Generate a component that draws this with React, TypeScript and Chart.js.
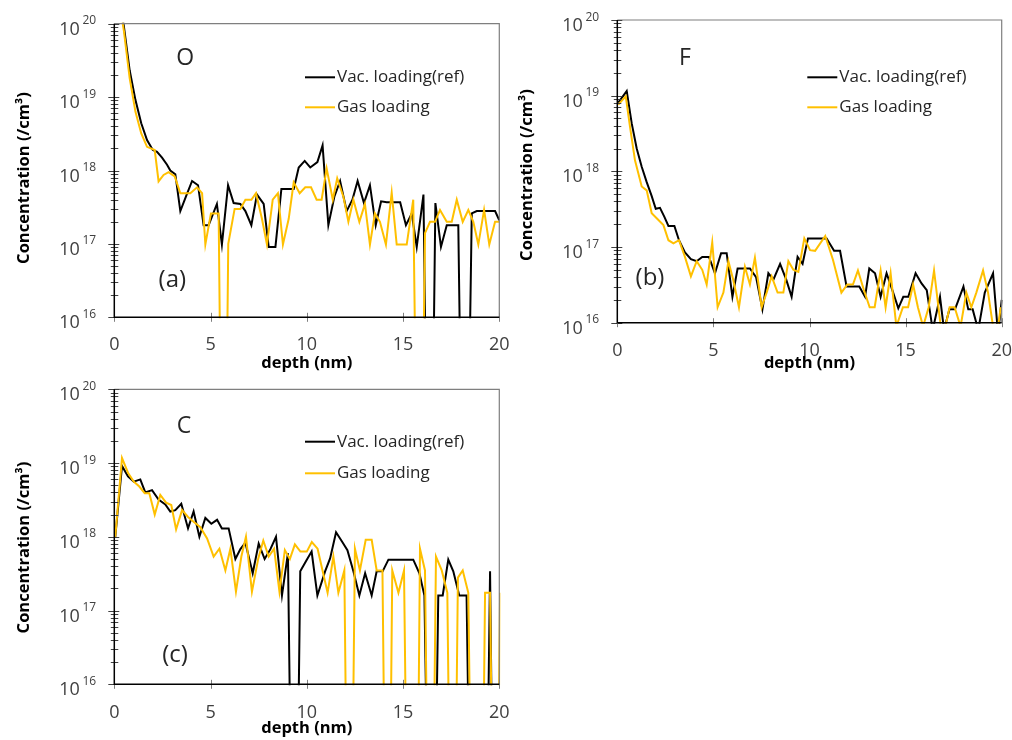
import React, { useEffect, useRef } from "react";
import { Chart, registerables } from "chart.js";

Chart.register(...registerables);

// ---------- labels / ticks ----------
const seriesLabels = ["Vac. loading(ref)", "Gas loading"];
const seriesColors = ["#000000", "#FFC000"];
const xTickValues = [0, 5, 10, 15, 20];
const yDecadeExponents = [16, 17, 18, 19, 20];
const yMinorMultipliers = [2, 3, 4, 5, 6, 7, 8, 9];
const xAxisTitle = "depth (nm)";
const yAxisTitle = "Concentration (/cm³)";

// ---------- panel (a): O ----------
const oVacDepth = [0.2, 0.5, 0.8, 1.1, 1.4, 1.7, 2.0, 2.22, 2.48, 2.74, 2.91, 3.17, 3.43, 3.72, 4.04, 4.35, 4.64, 4.9, 5.33, 5.59, 5.91, 6.2, 6.55, 6.81, 7.12, 7.41, 7.76, 8.02, 8.37, 8.68, 9.32, 9.58, 9.89, 10.18, 10.55, 10.82, 11.12, 11.43, 11.73, 12.07, 12.37, 12.64, 12.97, 13.28, 13.58, 13.86, 14.15, 14.85, 15.15, 15.45, 15.71, 16.06, 16.38, 16.68, 16.97, 17.27, 17.87, 18.2, 18.57, 18.83, 19.78, 20.0];
const oVacConc = [3.2e20, 9.1e19, 2.3e19, 9.1e18, 4.4e18, 2.6e18, 1.9e18, 1.8e18, 1.5e18, 1.2e18, 1.0e18, 8.9e17, 2.8e17, 4.4e17, 7.2e17, 6.3e17, 1.8e17, 1.8e17, 3.5e17, 9.8e16, 6.3e17, 3.6e17, 3.5e17, 2.8e17, 1.8e17, 4.7e17, 3.5e17, 9.1e16, 9.1e16, 5.6e17, 5.6e17, 1.1e18, 1.35e18, 1.1e18, 1.3e18, 2.2e18, 1.8e17, 4.4e17, 7.2e17, 2.8e17, 4.0e17, 7.2e17, 3.6e17, 6.3e17, 1.8e17, 3.8e17, 3.7e17, 3.7e17, 1.8e17, 2.6e17, 9.1e16, 4.7e17, 1e11, 3.6e17, 9.1e16, 1.8e17, 1.8e17, 1e11, 2.6e17, 2.8e17, 2.8e17, 2.1e17];
const oGasDepth = [0.2, 0.5, 0.8, 1.1, 1.4, 1.7, 2.1, 2.3, 2.56, 2.82, 3.14, 3.43, 3.95, 4.3, 4.56, 4.73, 5.02, 5.42, 5.68, 5.92, 6.25, 6.55, 6.81, 7.12, 7.36, 7.67, 7.93, 8.23, 8.5, 8.76, 9.06, 9.32, 9.63, 9.92, 10.22, 10.51, 10.77, 11.03, 11.35, 11.58, 11.9, 12.16, 12.42, 12.73, 13.02, 13.28, 13.54, 13.8, 14.11, 14.41, 14.67, 15.19, 15.53, 15.85, 16.14, 16.4, 16.66, 16.92, 17.27, 17.53, 17.79, 18.1, 18.39, 18.65, 18.91, 19.21, 19.48, 19.78, 20.0];
const oGasConc = [2.5e20, 7.9e19, 1.8e19, 6.3e18, 3.2e18, 2.1e18, 1.9e18, 7.1e17, 8.7e17, 9.5e17, 8.3e17, 4.9e17, 4.9e17, 5.9e17, 4.9e17, 9.8e16, 2.6e17, 2.6e17, 1e11, 1.0e17, 3.0e17, 3.0e17, 4.0e17, 4.0e17, 4.9e17, 2.2e17, 9.8e16, 4.0e17, 4.9e17, 9.8e16, 2.2e17, 6.9e17, 4.9e17, 5.9e17, 5.9e17, 4.0e17, 4.0e17, 1.07e18, 4.0e17, 7.8e17, 4.4e17, 2.0e17, 4.0e17, 2.0e17, 3.5e17, 9.8e16, 2.6e17, 2.0e17, 9.8e16, 5.0e17, 9.8e16, 9.8e16, 4.0e17, 1e11, 1.4e17, 2.0e17, 2.0e17, 2.9e17, 2.0e17, 2.0e17, 4.0e17, 2.0e17, 2.9e17, 2.0e17, 9.8e16, 2.9e17, 9.8e16, 2.0e17, 2.0e17];

// ---------- panel (b): F ----------
const fVacDepth = [0.05, 0.49, 0.75, 1.01, 1.27, 1.53, 1.79, 2.0, 2.22, 2.45, 2.66, 2.97, 3.21, 3.52, 3.83, 4.13, 4.42, 4.77, 5.08, 5.4, 5.69, 5.99, 6.26, 6.9, 7.22, 7.55, 7.86, 8.12, 8.47, 8.79, 9.07, 9.38, 9.64, 9.92, 10.29, 10.89, 11.28, 11.59, 11.93, 12.59, 12.89, 13.11, 13.41, 13.7, 14.01, 14.31, 14.62, 14.88, 15.14, 15.52, 15.83, 16.1, 16.41, 16.79, 17.0, 17.28, 17.57, 18.01, 18.26, 18.49, 18.78, 19.12, 19.55, 19.81, 20.0];
const fVacConc = [8.1e18, 1.15e19, 4.3e18, 2.0e18, 1.15e18, 7.2e17, 4.7e17, 3.2e17, 3.3e17, 2.5e17, 1.9e17, 1.9e17, 1.23e17, 8.5e16, 6.9e16, 6.5e16, 7.4e16, 7.4e16, 4.5e16, 8.3e16, 8.3e16, 2.2e16, 5.2e16, 5.2e16, 4.0e16, 1.5e16, 4.5e16, 3.7e16, 6.0e16, 3.7e16, 2.2e16, 7.4e16, 6.0e16, 1.3e17, 1.3e17, 1.3e17, 8.9e16, 8.9e16, 3.0e16, 3.0e16, 2.2e16, 5.2e16, 4.5e16, 2.2e16, 4.5e16, 2.7e16, 1.55e16, 2.2e16, 2.2e16, 4.5e16, 3.3e16, 2.7e16, 8e15, 2.2e16, 8e15, 1.5e16, 1.5e16, 3.0e16, 1.5e16, 1.5e16, 8e15, 2.5e16, 4.5e16, 7e15, 2e16];
const fGasDepth = [0.05, 0.44, 0.66, 0.92, 1.27, 1.53, 1.79, 2.05, 2.4, 2.66, 2.92, 3.21, 3.52, 3.83, 4.13, 4.42, 4.65, 4.94, 5.22, 5.52, 5.78, 6.04, 6.33, 6.64, 6.9, 7.16, 7.51, 7.77, 8.03, 8.34, 8.64, 8.9, 9.16, 9.42, 9.73, 10.03, 10.29, 10.82, 11.22, 11.66, 11.97, 12.26, 12.52, 12.83, 13.13, 13.39, 13.7, 13.96, 14.22, 14.52, 14.86, 15.13, 15.39, 15.64, 15.91, 16.2, 16.48, 16.83, 17.07, 17.29, 17.55, 17.86, 18.16, 18.42, 18.68, 19.03, 19.29, 19.55, 19.81, 19.95];
const fGasConc = [7.6e18, 9.8e18, 3.9e18, 1.4e18, 6.3e17, 5.6e17, 2.8e17, 2.4e17, 1.95e17, 1.23e17, 1.12e17, 1.23e17, 7.4e16, 4.1e16, 6.5e16, 5.0e16, 3.2e16, 1.15e17, 1.6e16, 2.5e16, 6.5e16, 3.6e16, 1.6e16, 5.5e16, 3.2e16, 7.2e16, 1.6e16, 2.5e16, 4.1e16, 2.5e16, 2.5e16, 6.5e16, 5.0e16, 4.7e16, 1.3e17, 9.1e16, 8.9e16, 1.4e17, 6.8e16, 2.5e16, 3.2e16, 3.2e16, 4.9e16, 2.7e16, 1.6e16, 1.6e16, 4.9e16, 1.6e16, 4.5e16, 8.9e15, 1.6e16, 1.6e16, 3.2e16, 1.6e16, 8.9e15, 1.6e16, 4.9e16, 8.9e15, 8.9e15, 1.6e16, 1.6e16, 8.9e15, 2.5e16, 1.6e16, 2.5e16, 4.9e16, 2.5e16, 8.9e15, 8.9e15, 1.6e16];

// ---------- panel (c): C ----------
const cVacDepth = [0.05, 0.4, 0.71, 1.01, 1.35, 1.61, 1.96, 2.3, 2.65, 2.91, 3.17, 3.48, 3.83, 4.12, 4.42, 4.73, 5.04, 5.34, 5.59, 5.94, 6.29, 6.55, 6.81, 7.19, 7.5, 7.81, 8.11, 8.4, 8.71, 9.02, 9.35, 9.66, 10.0, 10.25, 10.55, 10.95, 11.21, 11.52, 11.82, 12.11, 12.42, 12.73, 13.03, 13.37, 13.63, 13.94, 14.24, 15.53, 15.85, 16.11, 16.49, 16.83, 17.06, 17.35, 17.61, 17.92, 18.3, 18.65, 19.2, 19.52, 19.8, 20.1];
const cVacConc = [1.0e18, 9.1e18, 6.6e18, 5.6e18, 6.0e18, 4.0e18, 4.3e18, 3.2e18, 2.75e18, 2.2e18, 2.3e18, 2.8e18, 1.3e18, 2.2e18, 1.0e18, 1.8e18, 1.5e18, 1.7e18, 1.3e18, 1.3e18, 5.0e17, 6.8e17, 8.3e17, 3.2e17, 8.1e17, 5.0e17, 6.8e17, 1.0e18, 1.6e17, 6.0e17, 1e11, 3.4e17, 4.9e17, 6.3e17, 1.6e17, 3.4e17, 5.1e17, 1.15e18, 8.7e17, 6.6e17, 3.4e17, 1.6e17, 3.2e17, 1.6e17, 3.4e17, 3.4e17, 4.9e17, 4.9e17, 3.2e17, 1.6e17, 1e11, 1.6e17, 1.6e17, 4.9e17, 3.4e17, 1.6e17, 1.6e17, 1e11, 1e11, 3.4e17, 1e11, 1e11];
const cGasDepth = [0.05, 0.4, 0.71, 1.01, 1.3, 1.58, 1.82, 2.1, 2.39, 2.69, 2.96, 3.21, 3.52, 3.83, 4.12, 4.47, 4.82, 5.16, 5.46, 5.77, 6.03, 6.32, 6.6, 6.84, 7.15, 7.48, 7.74, 8.02, 8.3, 8.58, 8.86, 9.12, 9.38, 9.67, 10.0, 10.26, 10.56, 11.08, 11.38, 11.64, 11.95, 12.22, 12.5, 12.76, 13.06, 13.37, 13.63, 13.93, 14.2, 14.44, 14.76, 15.05, 15.35, 15.65, 15.88, 16.14, 16.43, 16.71, 17.01, 17.3, 17.58, 17.85, 18.1, 18.39, 18.7, 19.0, 19.26, 19.52, 19.8, 20.04];
const cGasConc = [1.0e18, 1.17e19, 7.4e18, 5.6e18, 4.8e18, 3.9e18, 3.9e18, 2.0e18, 3.7e18, 2.9e18, 2.7e18, 1.26e18, 2.3e18, 1.86e18, 1.6e18, 1.35e18, 9.5e17, 5.4e17, 6.9e17, 3.5e17, 6.9e17, 1.8e17, 5.4e17, 1.0e18, 1.8e17, 5.1e17, 8.9e17, 5.4e17, 6.9e17, 1.8e17, 6.6e17, 5.0e17, 7.9e17, 6.3e17, 6.3e17, 8.5e17, 6.9e17, 1.74e17, 5.4e17, 1.74e17, 3.5e17, 1e11, 6.9e17, 3.5e17, 9.1e17, 9.1e17, 3.5e17, 3.5e17, 1e11, 3.5e17, 1.74e17, 3.5e17, 1e11, 1e11, 6.9e17, 3.5e17, 1e11, 5.4e17, 3.5e17, 1.74e17, 1e11, 2.8e17, 3.5e17, 1.74e17, 1e11, 1e11, 1.74e17, 1.74e17, 1e11, 1.74e17];

const FONT = '"Open Sans", "Noto Sans", "DejaVu Sans", sans-serif';

const axisDecor = {
  id: "axisDecor",
  afterDatasetsDraw(chart: any, _args: any, o: any) {
    const { ctx, chartArea: ca } = chart;
    const xs = chart.scales.x;
    const ys = chart.scales.y;
    ctx.save();
    // top & right frame
    ctx.strokeStyle = "#7f7f7f";
    ctx.lineWidth = 1.2;
    ctx.beginPath();
    ctx.moveTo(ca.left, ca.top);
    ctx.lineTo(ca.right, ca.top);
    ctx.lineTo(ca.right, ca.bottom);
    ctx.stroke();

    // y ticks: decades (major) and 2..9 multiples (minor), placed by the log scale
    ctx.strokeStyle = "#404040";
    ctx.lineWidth = 1;
    ctx.beginPath();
    for (const e of yDecadeExponents) {
      const y = Math.round(ys.getPixelForValue(Math.pow(10, e))) + 0.5;
      ctx.moveTo(ca.left - 6, y);
      ctx.lineTo(ca.left + 5, y);
      if (e === yDecadeExponents[yDecadeExponents.length - 1]) continue;
      for (const m of yMinorMultipliers) {
        const ym = Math.round(ys.getPixelForValue(m * Math.pow(10, e))) + 0.5;
        ctx.moveTo(ca.left - 3.5, ym);
        ctx.lineTo(ca.left + 4, ym);
      }
    }
    ctx.stroke();

    // x ticks
    ctx.strokeStyle = "#7f7f7f";
    ctx.beginPath();
    for (const t of xs.ticks) {
      const x = Math.round(xs.getPixelForValue(t.value)) + 0.5;
      ctx.moveTo(x, ca.bottom - 4.5);
      ctx.lineTo(x, ca.bottom + 4.5);
    }
    ctx.stroke();

    // left & bottom axes
    ctx.strokeStyle = "#000000";
    ctx.lineWidth = 1.5;
    ctx.beginPath();
    ctx.moveTo(ca.left, ca.top);
    ctx.lineTo(ca.left, ca.bottom);
    ctx.lineTo(ca.right, ca.bottom);
    ctx.stroke();
    ctx.restore();
  },
  afterDraw(chart: any, _args: any, o: any) {
    const { ctx, chartArea: ca } = chart;
    const xs = chart.scales.x;
    const ys = chart.scales.y;
    ctx.save();
    ctx.textBaseline = "alphabetic";

    // x tick labels
    ctx.fillStyle = "#404040";
    ctx.font = `18px ${FONT}`;
    ctx.textAlign = "center";
    for (const t of xs.ticks) {
      ctx.fillText(String(t.value), xs.getPixelForValue(t.value), ca.bottom + o.xLabelBase);
    }
    // y tick labels 10^n
    for (const e of yDecadeExponents) {
      const y = ys.getPixelForValue(Math.pow(10, e));
      ctx.font = `18px ${FONT}`;
      ctx.textAlign = "right";
      ctx.fillText("10", ca.left - 34.5, y + 11);
      ctx.font = `12px ${FONT}`;
      ctx.textAlign = "left";
      ctx.fillText(String(e), ca.left - 31.8, y + 0.5);
    }

    // axis titles
    ctx.fillStyle = "#000000";
    ctx.font = `bold 16.5px ${FONT}`;
    ctx.textAlign = "center";
    ctx.fillText(xAxisTitle, (ca.left + ca.right) / 2, ca.bottom + o.xTitleBase);
    ctx.save();
    ctx.translate(ca.left + o.yTitleX, ca.top + o.yTitleY);
    ctx.rotate(-Math.PI / 2);
    ctx.textBaseline = "middle";
    ctx.fillText(yAxisTitle, 0, 0);
    ctx.restore();

    // element name & panel tag
    ctx.fillStyle = "#262626";
    ctx.textAlign = "center";
    ctx.font = `23px ${FONT}`;
    ctx.fillText(o.element, ca.left + o.elX, ca.top + o.elBase);
    ctx.font = `24px ${FONT}`;
    ctx.fillText(o.tag, ca.left + o.tagX, ca.top + o.tagBase);

    // legend
    chart.data.datasets.forEach((ds: any, i: number) => {
      const y = ca.top + o.legendDy + i * o.legendGap;
      const x0 = ca.left + o.legendDx;
      ctx.strokeStyle = ds.borderColor;
      ctx.lineWidth = 2;
      ctx.beginPath();
      ctx.moveTo(x0, y);
      ctx.lineTo(x0 + 30, y);
      ctx.stroke();
      ctx.fillStyle = "#262626";
      ctx.font = `17px ${FONT}`;
      ctx.textAlign = "left";
      ctx.textBaseline = "middle";
      ctx.fillText(ds.label, x0 + 32, y);
      ctx.textBaseline = "alphabetic";
    });
    ctx.restore();
  },
};

function toPoints(xs: number[], ys: number[]) {
  return xs.map((x, i) => ({ x, y: ys[i] }));
}

function makeConfig(vacX: number[], vacY: number[], gasX: number[], gasY: number[], deco: any) {
  return {
    type: "line",
    data: {
      datasets: [
        {
          label: seriesLabels[0],
          data: toPoints(vacX, vacY),
          borderColor: seriesColors[0],
          backgroundColor: seriesColors[0],
          borderWidth: 2,
          pointRadius: 0,
          tension: 0,
          fill: false,
          clip: 1,
          order: 1,
        },
        {
          label: seriesLabels[1],
          data: toPoints(gasX, gasY),
          borderColor: seriesColors[1],
          backgroundColor: seriesColors[1],
          borderWidth: 2,
          pointRadius: 0,
          tension: 0,
          fill: false,
          clip: 1,
          order: 0,
        },
      ],
    },
    options: {
      responsive: false,
      maintainAspectRatio: false,
      animation: false,
      events: [],
      layout: { padding: deco.padding },
      plugins: {
        legend: { display: false },
        tooltip: { enabled: false },
        axisDecor: deco,
      },
      scales: {
        x: {
          type: "linear",
          min: 0,
          max: 20,
          display: false,
          afterBuildTicks: (s: any) => {
            s.ticks = xTickValues.map((v) => ({ value: v }));
          },
        },
        y: {
          type: "logarithmic",
          min: 1e16,
          max: 1e20,
          display: false,
        },
      },
    },
    plugins: [axisDecor],
  };
}

const decoA = {
  padding: { left: 114.3, top: 23.7, right: 10.7, bottom: 62.7 },
  element: "O", elX: 71, elBase: 41,
  tag: "(a)", tagX: 58, tagBase: 263,
  legendDx: 190.7, legendDy: 53.6, legendGap: 30,
  yTitleX: -90.3, yTitleY: 154.3,
  xTitleBase: 50.7, xLabelBase: 33,
};
const decoB = {
  padding: { left: 107.3, top: 20, right: 10.3, bottom: 57.3 },
  element: "F", elX: 67.7, elBase: 45.4,
  tag: "(b)", tagX: 32.7, tagBase: 265,
  legendDx: 190, legendDy: 57.3, legendGap: 30,
  yTitleX: -90.3, yTitleY: 155,
  xTitleBase: 45.3, xLabelBase: 33.7,
};
const decoC = {
  padding: { left: 114.3, top: 9.3, right: 10.7, bottom: 55.7 },
  element: "C", elX: 69.7, elBase: 43.3,
  tag: "(c)", tagX: 60.7, tagBase: 272.4,
  legendDx: 190.7, legendDy: 52.4, legendGap: 31.6,
  yTitleX: -90.3, yTitleY: 158.2,
  xTitleBase: 48.7, xLabelBase: 33.7,
};

function Panel(props: { left: number; top: number; width: number; height: number; build: () => any }) {
  const ref = useRef<HTMLCanvasElement | null>(null);
  useEffect(() => {
    if (!ref.current) return;
    const chart = new Chart(ref.current, props.build());
    return () => chart.destroy();
  }, []);
  return (
    <canvas
      ref={ref}
      width={props.width}
      height={props.height}
      style={{ position: "absolute", left: props.left, top: props.top, width: props.width, height: props.height }}
    />
  );
}

export default function App() {
  return (
    <div style={{ position: "absolute", left: 0, top: 0, width: 1012, height: 740, overflow: "hidden", background: "#ffffff" }}>
      <Panel left={0} top={0} width={510} height={380} build={() => makeConfig(oVacDepth, oVacConc, oGasDepth, oGasConc, decoA)} />
      <Panel left={510} top={0} width={502} height={380} build={() => makeConfig(fVacDepth, fVacConc, fGasDepth, fGasConc, decoB)} />
      <Panel left={0} top={380} width={510} height={360} build={() => makeConfig(cVacDepth, cVacConc, cGasDepth, cGasConc, decoC)} />
    </div>
  );
}
